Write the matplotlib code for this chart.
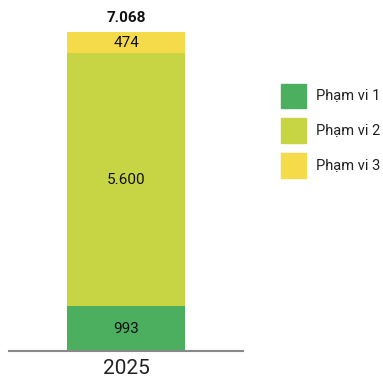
import matplotlib
matplotlib.use("Agg")
import matplotlib.pyplot as plt
from matplotlib.patches import Patch

plt.rcParams['font.family'] = ['Roboto', 'DejaVu Sans']

years = ["2025"]
scope_names = ["Phạm vi 1", "Phạm vi 2", "Phạm vi 3"]
scope_values = [993, 5600, 474]
scope_labels = ["993", "5.600", "474"]
total_label = "7.068"
colors = ["#4caf5f", "#c7d545", "#f5da4a"]

fig = plt.figure(figsize=(3.83, 3.78), dpi=100)
ax = fig.add_axes([0.0235, 0.0714, 0.611, 0.844])

bottom = 0
for val, lab, col in zip(scope_values, scope_labels, colors):
    ax.bar(0, val, width=0.504, bottom=bottom, color=col)
    ax.text(0, bottom + val / 2, lab, ha="center", va="center",
            fontsize=11, color="#111111")
    bottom += val

ax.text(0, bottom + 150, total_label, ha="center", va="bottom",
        fontsize=11, fontweight="bold", color="#111111", clip_on=False)

ax.set_xlim(-0.5, 0.5)
ax.set_ylim(0, sum(scope_values))
ax.set_xticks([0])
ax.set_xticklabels(years, fontsize=15, color="#222222")
ax.tick_params(axis="x", length=0, pad=6)
ax.set_yticks([])
for s in ["top", "right", "left"]:
    ax.spines[s].set_visible(False)
ax.spines["bottom"].set_color("#888888")
ax.spines["bottom"].set_linewidth(1.5)

handles = [Patch(color=c, label=n) for c, n in zip(colors, scope_names)]
fig.legend(handles=handles, loc="upper left", bbox_to_anchor=(0.734, 0.779),
           frameon=False, fontsize=10.5, handlelength=1.72, handleheight=2.2,
           handletextpad=0.68, labelspacing=0.72, labelcolor="#222222",
           borderpad=0, borderaxespad=0)

fig.savefig("out.png", dpi=100)
